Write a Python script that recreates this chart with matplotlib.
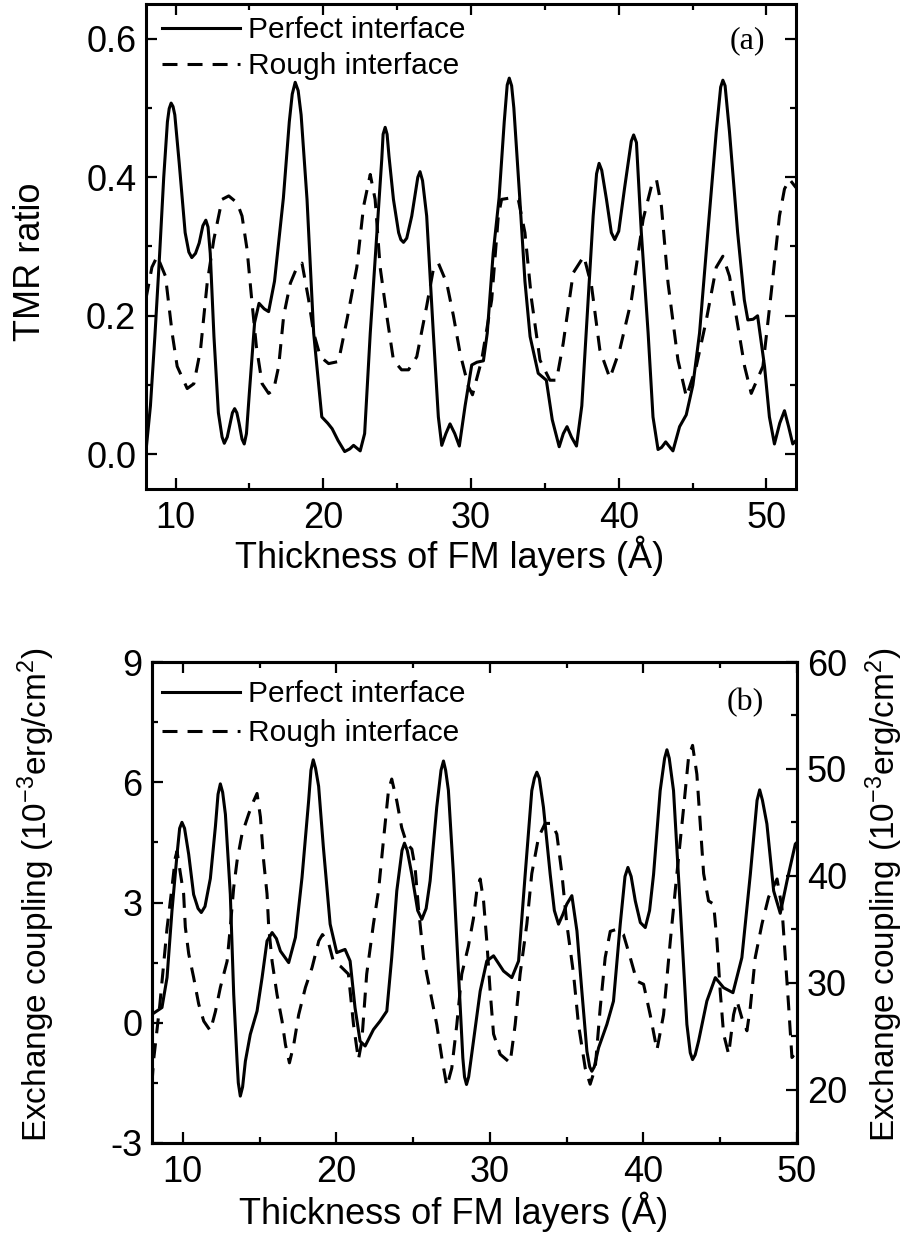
import matplotlib
matplotlib.use('Agg')
import matplotlib.pyplot as plt
from matplotlib.ticker import MultipleLocator, FormatStrFormatter

plt.rcParams['font.family'] = ['Liberation Sans', 'DejaVu Sans']
plt.rcParams['mathtext.fontset'] = 'custom'
plt.rcParams['mathtext.rm'] = 'Liberation Sans'
plt.rcParams['mathtext.it'] = 'Liberation Sans:italic'
plt.rcParams['axes.unicode_minus'] = False

# ---------------- data: panel (a) TMR ratio, (thickness, value) ----------------
tmr_perfect = [
    (8.0, 0.005), (8.3, 0.07), (8.6, 0.17), (8.9, 0.28), (9.2, 0.40), (9.45, 0.48), (9.57, 0.499),
    (9.7, 0.507), (9.83, 0.502), (9.95, 0.49), (10.25, 0.42), (10.65, 0.32), (10.9, 0.292),
    (11.1, 0.284), (11.35, 0.29), (11.6, 0.305), (11.85, 0.33), (12.05, 0.338), (12.2, 0.328),
    (12.35, 0.29), (12.6, 0.17), (12.9, 0.06), (13.15, 0.025), (13.3, 0.016), (13.5, 0.025),
    (13.7, 0.045), (13.85, 0.06), (14.0, 0.066), (14.15, 0.06), (14.3, 0.045), (14.5, 0.022),
    (14.65, 0.015), (14.8, 0.03), (15.0, 0.09), (15.35, 0.19), (15.65, 0.218), (16.0, 0.21),
    (16.3, 0.206), (16.7, 0.25), (17.0, 0.31), (17.3, 0.37), (17.7, 0.48), (17.9, 0.52),
    (18.1, 0.537), (18.3, 0.525), (18.5, 0.49), (18.9, 0.368), (19.35, 0.175), (19.9, 0.054),
    (20.3, 0.045), (20.6, 0.037), (21.0, 0.02), (21.45, 0.004), (21.8, 0.008), (22.05, 0.013),
    (22.5, 0.005), (22.8, 0.03), (23.18, 0.175), (23.63, 0.32), (23.96, 0.426), (24.05, 0.462),
    (24.19, 0.472), (24.32, 0.462), (24.45, 0.43), (24.75, 0.368), (25.1, 0.32), (25.25, 0.31),
    (25.43, 0.306), (25.65, 0.312), (25.99, 0.344), (26.4, 0.40), (26.55, 0.408), (26.72, 0.395),
    (27.0, 0.344), (27.45, 0.175), (27.79, 0.054), (28.02, 0.013), (28.3, 0.03), (28.58, 0.044),
    (28.9, 0.03), (29.21, 0.012), (29.6, 0.07), (30.05, 0.129), (30.4, 0.133), (30.84, 0.135),
    (31.1, 0.175), (31.5, 0.29), (31.9, 0.37), (32.25, 0.48), (32.45, 0.533), (32.59, 0.543),
    (32.75, 0.532), (32.9, 0.50), (33.3, 0.37), (33.65, 0.25), (34.0, 0.17), (34.55, 0.117),
    (35.1, 0.107), (35.5, 0.05), (35.97, 0.011), (36.25, 0.03), (36.5, 0.04), (36.8, 0.025),
    (37.14, 0.012), (37.5, 0.07), (37.93, 0.223), (38.27, 0.344), (38.5, 0.405), (38.67, 0.42),
    (38.85, 0.41), (39.17, 0.368), (39.5, 0.32), (39.73, 0.31), (40.0, 0.322), (40.4, 0.385),
    (40.85, 0.452), (41.01, 0.461), (41.2, 0.45), (41.53, 0.32), (41.99, 0.175), (42.32, 0.054),
    (42.66, 0.007), (42.9, 0.01), (43.18, 0.018), (43.4, 0.012), (43.67, 0.005), (44.12, 0.04),
    (44.57, 0.057), (45.02, 0.10), (45.47, 0.175), (46.03, 0.32), (46.6, 0.465), (46.9, 0.53),
    (47.05, 0.54), (47.2, 0.532), (47.5, 0.465), (48.05, 0.32), (48.5, 0.223), (48.74, 0.194),
    (49.1, 0.195), (49.4, 0.20), (49.87, 0.127), (50.2, 0.054), (50.54, 0.015), (50.9, 0.045),
    (51.22, 0.063), (51.5, 0.04), (51.78, 0.015), (52.0, 0.02)]

tmr_rough = [
    (8.0, 0.225), (8.4, 0.27), (8.76, 0.286), (9.32, 0.257), (9.77, 0.175), (10.11, 0.127),
    (10.79, 0.095), (11.24, 0.102), (11.69, 0.151), (12.14, 0.247), (12.59, 0.31), (13.15, 0.368),
    (13.6, 0.373), (14.17, 0.363), (14.5, 0.344), (14.84, 0.296), (15.18, 0.218), (15.47, 0.156),
    (15.86, 0.102), (16.3, 0.088), (16.64, 0.093), (16.98, 0.127), (17.32, 0.20), (17.77, 0.247),
    (18.22, 0.27), (18.56, 0.276), (19.01, 0.223), (19.35, 0.175), (19.8, 0.141), (20.36, 0.131),
    (21.03, 0.134), (21.6, 0.194), (22.27, 0.27), (22.73, 0.358), (23.18, 0.404), (23.51, 0.368),
    (23.85, 0.27), (24.3, 0.20), (24.75, 0.136), (25.3, 0.122), (25.77, 0.122), (26.33, 0.141),
    (27.0, 0.214), (27.45, 0.267), (27.79, 0.276), (28.36, 0.247), (28.81, 0.20), (29.26, 0.146),
    (29.82, 0.098), (30.1, 0.086), (30.72, 0.136), (31.4, 0.223), (31.85, 0.344), (32.07, 0.368),
    (32.64, 0.37), (33.2, 0.368), (33.65, 0.32), (34.1, 0.223), (34.67, 0.136), (35.34, 0.107),
    (35.79, 0.107), (36.24, 0.16), (36.92, 0.262), (37.64, 0.286), (38.16, 0.243), (38.72, 0.151),
    (39.4, 0.11), (40.07, 0.151), (40.86, 0.223), (41.65, 0.339), (42.21, 0.387), (42.55, 0.397),
    (42.89, 0.358), (43.34, 0.247), (44.01, 0.136), (44.58, 0.083), (45.25, 0.127), (45.93, 0.194),
    (46.6, 0.27), (47.05, 0.286), (47.5, 0.257), (47.95, 0.20), (48.52, 0.127), (48.97, 0.088),
    (49.76, 0.127), (50.32, 0.233), (50.88, 0.344), (51.22, 0.383), (51.56, 0.397), (52.0, 0.385)]

# ---------------- data: panel (b) exchange coupling ----------------
# perfect interface, left axis (10^-3 erg/cm^2)
ec_perfect = [
    (8.0, 0.21), (8.65, 0.38), (8.98, 1.13), (9.3, 2.79), (9.63, 4.2), (9.8, 4.85), (9.95, 5.0),
    (10.12, 4.85), (10.39, 4.2), (10.71, 3.2), (11.0, 2.85), (11.21, 2.75), (11.45, 2.9),
    (11.8, 3.6), (12.13, 4.9), (12.3, 5.7), (12.45, 5.96), (12.6, 5.75), (12.78, 5.2), (13.1, 3.2),
    (13.32, 0.71), (13.54, -0.96), (13.62, -1.5), (13.75, -1.83), (13.9, -1.6), (14.08, -0.96),
    (14.4, -0.29), (14.84, 0.29), (15.17, 1.13), (15.49, 2.04), (15.82, 2.25), (16.1, 2.1),
    (16.36, 1.79), (16.9, 1.5), (17.34, 2.13), (17.77, 3.63), (18.2, 5.54), (18.35, 6.3),
    (18.5, 6.56), (18.65, 6.35), (18.85, 5.9), (19.16, 4.375), (19.6, 2.46), (20.03, 1.75),
    (20.57, 1.83), (20.9, 1.54), (21.22, 0.375), (21.55, -0.46), (21.88, -0.58), (22.42, -0.17),
    (22.85, 0.04), (23.29, 0.29), (23.61, 1.63), (23.94, 3.29), (24.28, 4.3), (24.44, 4.48),
    (24.62, 4.3), (24.92, 3.7), (25.3, 2.8), (25.57, 2.58), (25.85, 2.85), (26.11, 3.54),
    (26.54, 5.375), (26.82, 6.3), (26.98, 6.53), (27.12, 6.3), (27.3, 5.8), (27.63, 3.7),
    (27.96, 1.21), (28.24, -0.875), (28.35, -1.35), (28.48, -1.54), (28.62, -1.35), (28.93, -0.46),
    (29.37, 0.79), (29.8, 1.54), (30.24, 1.67), (30.89, 1.29), (31.43, 1.125), (31.87, 1.54),
    (32.3, 3.7), (32.73, 5.79), (32.9, 6.1), (33.06, 6.25), (33.22, 6.1), (33.49, 5.375),
    (33.93, 3.7), (34.2, 2.8), (34.47, 2.46), (34.75, 2.7), (35.01, 2.96), (35.34, 3.17),
    (35.67, 2.29), (35.99, 0.79), (36.32, -0.71), (36.5, -1.1), (36.64, -1.21), (36.8, -1.1),
    (37.08, -0.625), (37.62, -0.04), (38.05, 0.54), (38.49, 2.46), (38.8, 3.65), (38.99, 3.875),
    (39.2, 3.65), (39.47, 3.04), (39.8, 2.5), (40.12, 2.375), (40.4, 2.8), (40.66, 3.7),
    (41.09, 5.79), (41.38, 6.6), (41.53, 6.81), (41.68, 6.6), (41.96, 5.79), (42.4, 2.875),
    (42.83, -0.04), (43.05, -0.75), (43.2, -0.92), (43.37, -0.8), (43.59, -0.46), (44.13, 0.54),
    (44.68, 1.125), (45.22, 0.875), (45.83, 0.75), (46.41, 1.625), (46.96, 3.7), (47.4, 5.55),
    (47.57, 5.81), (47.75, 5.55), (48.04, 4.96), (48.48, 3.29), (48.91, 2.73), (49.35, 3.54),
    (49.89, 4.46), (50.0, 4.5)]

# rough interface, right axis (10^-3 erg/cm^2)
ec_rough = [
    (8.0, 20.6), (8.1, 22.7), (8.5, 27.8), (8.98, 35.1), (9.3, 38.9), (9.52, 41.7), (9.63, 42.3),
    (9.85, 40.2), (10.06, 38.3), (10.17, 35.2), (10.39, 32.7), (10.71, 30.5), (11.04, 28.0),
    (11.37, 26.4), (11.8, 25.5), (12.13, 27.3), (12.45, 29.55), (12.89, 32.0), (13.1, 35.2),
    (13.32, 38.9), (13.54, 41.4), (13.86, 43.9), (14.3, 45.8), (14.62, 47.0), (14.84, 47.7),
    (15.06, 45.5), (15.27, 41.4), (15.49, 38.3), (15.6, 35.2), (15.82, 32.0), (16.14, 28.9),
    (16.47, 26.4), (16.69, 24.2), (16.95, 22.5), (17.23, 24.2), (17.55, 27.0), (17.99, 29.55),
    (18.42, 31.4), (18.86, 33.9), (19.1, 34.5), (19.49, 33.75), (19.81, 32.0), (20.3, 31.5),
    (20.79, 30.8), (21.12, 26.1), (21.44, 22.8), (21.66, 24.5), (21.98, 30.8), (22.42, 35.5),
    (22.75, 38.6), (23.07, 43.3), (23.4, 48.0), (23.61, 49.05), (23.94, 47.0), (24.26, 44.5),
    (24.59, 43.0), (24.92, 42.5), (25.13, 40.8), (25.35, 37.0), (25.68, 32.35), (26.11, 29.2),
    (26.54, 26.1), (26.87, 23.0), (27.2, 20.3), (27.52, 22.0), (27.85, 26.1), (28.17, 30.8),
    (28.6, 33.4), (28.93, 36.0), (29.15, 38.6), (29.37, 39.7), (29.59, 37.65), (29.8, 33.9),
    (30.02, 29.2), (30.24, 25.2), (30.67, 23.3), (31.32, 22.5), (31.65, 26.1), (31.97, 30.8),
    (32.41, 35.5), (32.73, 40.2), (33.17, 43.6), (33.6, 44.9), (34.04, 44.9), (34.36, 43.9),
    (34.69, 40.2), (35.01, 35.5), (35.45, 30.8), (35.77, 26.1), (36.21, 22.0), (36.53, 20.5),
    (36.86, 22.0), (37.19, 27.7), (37.51, 32.35), (37.84, 34.8), (38.27, 35.0), (38.7, 34.5),
    (39.14, 32.35), (39.57, 30.15), (40.01, 29.85), (40.44, 27.0), (40.88, 23.7), (41.31, 27.0),
    (41.75, 33.9), (42.18, 40.2), (42.62, 46.4), (42.94, 51.1), (43.2, 52.2), (43.48, 49.5),
    (43.7, 44.85), (43.92, 40.2), (44.24, 37.65), (44.57, 37.35), (44.79, 33.9), (45.0, 29.2),
    (45.22, 25.2), (45.55, 23.3), (45.87, 27.0), (46.09, 28.3), (46.41, 26.7), (46.74, 25.5),
    (46.96, 27.7), (47.28, 32.35), (47.72, 35.5), (48.15, 38.0), (48.7, 39.7), (49.02, 37.0),
    (49.24, 32.35), (49.46, 27.7), (49.67, 23.0), (50.0, 23.6)]

legend_labels = ['Perfect interface', 'Rough interface']
xlabel = 'Thickness of FM layers (\u00c5)'
ec_label = 'Exchange coupling (10$^{-3}$erg/cm$^{2}$)'


def unzip(pairs):
    return [p[0] for p in pairs], [p[1] for p in pairs]


# ---------------- figure ----------------
W, H = 908, 1234
fig = plt.figure(figsize=(W / 100, H / 100), dpi=100)


def fx(px):
    return px / W


def fy(py):
    return 1 - py / H


ax1 = fig.add_axes([fx(146), fy(489), fx(796) - fx(146), fy(4) - fy(489)])
ax2 = fig.add_axes([fx(152), fy(1143), fx(797) - fx(152), fy(662) - fy(1143)])
ax2r = ax2.twinx()

LW = 2.2
DASH = (4.9, 3.3)
TICK_FS = 26
LABEL_FS = 26
LEG_FS = 21.5
SERIF = ['Liberation Serif', 'DejaVu Serif']

# panel (a)
x, y = unzip(tmr_perfect)
l1, = ax1.plot(x, y, color='black', lw=LW, solid_joinstyle='round')
x, y = unzip(tmr_rough)
l2, = ax1.plot(x, y, color='black', lw=LW, dashes=DASH)
ax1.set_xlim(8, 52)
ax1.set_ylim(-0.05, 0.65)
ax1.xaxis.set_major_locator(MultipleLocator(10))
ax1.xaxis.set_minor_locator(MultipleLocator(5))
ax1.yaxis.set_major_locator(MultipleLocator(0.2))
ax1.yaxis.set_minor_locator(MultipleLocator(0.1))
ax1.yaxis.set_major_formatter(FormatStrFormatter('%.1f'))
ax1.legend([l1, l2], legend_labels, loc='upper left', frameon=False, fontsize=LEG_FS,
           bbox_to_anchor=(fx(162), fy(16)), bbox_transform=fig.transFigure,
           borderaxespad=0, borderpad=0, handlelength=2.6, handletextpad=0.27,
           labelspacing=0.28)
ax1.text(fx(747), fy(41), '(a)', transform=fig.transFigure, ha='center', va='center',
         fontsize=23, family=SERIF)

# panel (b)
x, y = unzip(ec_perfect)
p1, = ax2.plot(x, y, color='black', lw=LW, solid_joinstyle='round')
x, y = unzip(ec_rough)
p2, = ax2r.plot(x, y, color='black', lw=LW, dashes=DASH)
ax2.set_xlim(8, 50)
ax2.set_ylim(-3, 9)
ax2r.set_ylim(15, 60)
ax2.xaxis.set_major_locator(MultipleLocator(10))
ax2.xaxis.set_minor_locator(MultipleLocator(5))
ax2.yaxis.set_major_locator(MultipleLocator(3))
ax2.yaxis.set_minor_locator(MultipleLocator(1.5))
ax2r.yaxis.set_minor_locator(MultipleLocator(5))
ax2r.set_yticks([20, 30, 40, 50, 60])
ax2r.legend([p1, p2], legend_labels, loc='upper left', frameon=False, fontsize=LEG_FS,
            bbox_to_anchor=(fx(162), fy(680)), bbox_transform=fig.transFigure,
            borderaxespad=0, borderpad=0, handlelength=2.6, handletextpad=0.27,
            labelspacing=0.38)
ax2r.text(fx(745), fy(703), '(b)', transform=fig.transFigure, ha='center', va='center',
          fontsize=23, family=SERIF)

# styling
for ax in (ax1, ax2, ax2r):
    for sp in ax.spines.values():
        sp.set_linewidth(2.2)

ax1.tick_params(which='both', direction='in', top=True, right=True, width=1.6,
                labelsize=TICK_FS)
ax1.tick_params(which='major', length=8)
ax1.tick_params(which='minor', length=4.5)
ax1.tick_params(axis='x', pad=9)
ax1.tick_params(axis='y', pad=7)

ax2.tick_params(which='both', direction='in', top=True, right=False, width=1.6,
                labelsize=TICK_FS)
ax2.tick_params(which='major', length=8)
ax2.tick_params(which='minor', length=4.5)
ax2.tick_params(axis='x', pad=9)
ax2.tick_params(axis='y', pad=7)
ax2r.tick_params(which='both', direction='in', width=1.6, labelsize=TICK_FS, pad=7)
ax2r.tick_params(which='major', length=8)
ax2r.tick_params(which='minor', length=4.5)

# axis labels
ax1.set_xlabel(xlabel, fontsize=LABEL_FS)
ax1.xaxis.label.set_va('center')
ax1.xaxis.set_label_coords((450 - 146) / 650, -(556 - 489) / 485)
ax1.set_ylabel('TMR ratio', fontsize=LABEL_FS)
ax1.yaxis.label.set_va('center')
ax1.yaxis.set_label_coords((30 - 146) / 650, (489 - 262) / 485)

ax2.set_xlabel(xlabel, fontsize=LABEL_FS)
ax2.xaxis.label.set_va('center')
ax2.xaxis.set_label_coords((454 - 152) / 645, -(1212 - 1143) / 481)
ax2.set_ylabel(ec_label, fontsize=24)
ax2.yaxis.label.set_va('center')
ax2.yaxis.set_label_coords((36 - 152) / 645, (1143 - 895) / 481)
ax2r.set_ylabel(ec_label, fontsize=24)
ax2r.yaxis.label.set_va('center')
ax2r.yaxis.set_label_coords((884 - 152) / 645, (1143 - 895) / 481)

fig.savefig('out.png', dpi=100)
